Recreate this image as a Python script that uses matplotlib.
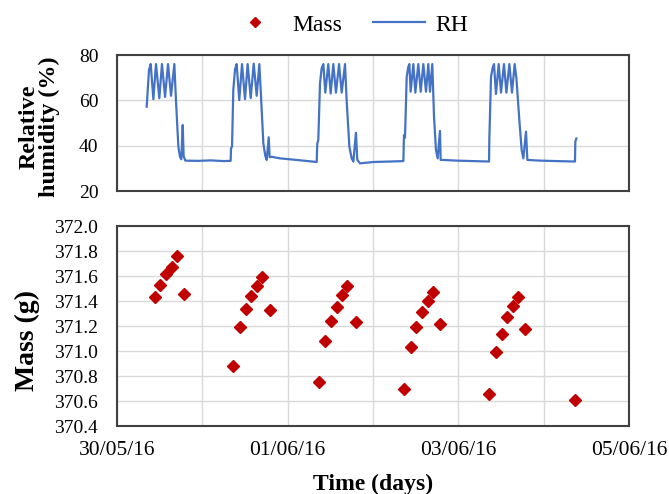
import matplotlib
matplotlib.use("Agg")
import matplotlib.pyplot as plt
from matplotlib.lines import Line2D

plt.rcParams['font.family'] = ['Liberation Serif', 'DejaVu Serif']

# ---- data (days since 30/05/16) ----
mass_days = [0.445, 0.504, 0.574, 0.641, 0.707, 0.789,
             1.363, 1.438, 1.508, 1.574, 1.637, 1.699, 1.789,
             2.367, 2.441, 2.504, 2.574, 2.637, 2.699, 2.797,
             3.363, 3.441, 3.508, 3.574, 3.641, 3.699, 3.785,
             4.363, 4.441, 4.512, 4.574, 4.637, 4.699, 4.781,
             5.371]
mass_values = [371.43, 371.53, 371.62, 371.67, 371.76, 371.46,
               370.88, 371.19, 371.34, 371.44, 371.52, 371.59, 371.33,
               370.75, 371.08, 371.24, 371.35, 371.45, 371.52, 371.23,
               370.70, 371.03, 371.19, 371.31, 371.40, 371.47, 371.22,
               370.66, 370.99, 371.14, 371.27, 371.36, 371.43, 371.18,
               370.61]

rh_days = [0.348, 0.375, 0.395, 0.426, 0.457, 0.496, 0.527, 0.563, 0.598, 0.633, 0.672,
           0.691, 0.719, 0.738, 0.754, 0.770, 0.781, 0.801, 0.95, 1.10, 1.25, 1.332,
           1.336, 1.348, 1.363, 1.383, 1.402, 1.433, 1.465, 1.500, 1.531, 1.567, 1.602,
           1.637, 1.668, 1.684, 1.715, 1.738, 1.754, 1.778, 1.789, 1.813, 1.91, 2.105, 2.34,
           2.347, 2.359, 2.379, 2.398, 2.418, 2.441, 2.476, 2.504, 2.535, 2.566, 2.602,
           2.633, 2.672, 2.691, 2.723, 2.750, 2.770, 2.800, 2.816, 2.848, 3.004, 3.199, 3.356,
           3.363, 3.375, 3.395, 3.414, 3.426, 3.441, 3.473, 3.496, 3.531, 3.559, 3.590,
           3.621, 3.648, 3.668, 3.695, 3.715, 3.738, 3.758, 3.785, 3.793, 3.824, 3.98, 4.17, 4.36,
           4.363, 4.383, 4.402, 4.418, 4.441, 4.473, 4.500, 4.535, 4.563, 4.598, 4.629, 4.660,
           4.680, 4.715, 4.742, 4.762, 4.793, 4.809, 4.957, 5.15, 5.367, 5.371, 5.383]
rh_values = [57.2, 73.4, 76.0, 60.5, 76.0, 60.9, 76.0, 61.5, 76.0, 62.0, 76.0,
             60.0, 39.6, 35.1, 34.0, 49.1, 35.4, 33.4, 33.3, 33.5, 33.2, 33.3,
             38.8, 39.6, 64.6, 73.7, 76.0, 60.1, 76.0, 60.5, 76.0, 61.0, 76.2,
             62.0, 76.0, 64.6, 41.0, 35.5, 33.7, 43.7, 34.9, 35.1, 34.4, 33.7, 32.8,
             41.0, 42.5, 67.5, 74.1, 76.0, 63.4, 76.0, 63.0, 76.0, 63.4, 76.0,
             63.4, 76.0, 60.1, 39.6, 34.4, 33.0, 45.7, 33.7, 32.2, 32.8, 33.0, 33.2,
             44.7, 43.5, 70.4, 74.8, 76.0, 63.8, 76.0, 63.4, 76.0, 63.8, 76.0,
             63.8, 76.0, 63.8, 76.0, 52.8, 38.1, 34.4, 46.5, 33.7, 33.7, 33.4, 33.2, 33.0,
             42.5, 70.4, 74.3, 76.0, 62.8, 76.0, 63.4, 76.0, 63.4, 76.0, 63.4, 76.0,
             70.0, 51.3, 38.1, 34.4, 46.2, 33.7, 33.4, 33.2, 33.0, 41.8, 43.2]

x_ticks = [0, 1, 2, 3, 4, 5, 6]
x_ticklabels = ['30/05/16', '', '01/06/16', '', '03/06/16', '', '05/06/16']
rh_ticks = [20, 40, 60, 80]
mass_ticks = [370.4, 370.6, 370.8, 371.0, 371.2, 371.4, 371.6, 371.8, 372.0]

# ---- figure ----
fig = plt.figure(figsize=(6.69, 4.94), dpi=100)
L, R = 117 / 669, 629 / 669
ax1 = fig.add_axes([L, 1 - 191 / 494, R - L, (191 - 55) / 494])
ax2 = fig.add_axes([L, 1 - 426 / 494, R - L, (426 - 226) / 494])

rh_color = '#4472C4'
mass_color = '#C00000'
grid_color = '#D9D9D9'

ax1.plot(rh_days, rh_values, color=rh_color, lw=1.6, zorder=3)
ax1.set_ylim(20, 80)
ax1.set_yticks(rh_ticks)
ax1.set_xlim(0, 6)
ax1.set_xticks(x_ticks)
ax1.set_xticklabels([])

ax2.plot(mass_days, mass_values, linestyle='none', marker='D', markersize=6,
         color=mass_color, zorder=3)
ax2.set_ylim(370.4, 372.0)
ax2.set_yticks(mass_ticks)
ax2.set_yticklabels([f'{v:.1f}' for v in mass_ticks])
ax2.set_xlim(0, 6)
ax2.set_xticks(x_ticks)
ax2.set_xticklabels(x_ticklabels)

for ax in (ax1, ax2):
    ax.grid(True, color=grid_color, lw=1.0, zorder=0)
    ax.set_axisbelow(True)
    ax.tick_params(axis='y', length=0, labelsize=14, pad=13.5)
    ax.tick_params(axis='x', length=0, labelsize=15.5, pad=11)
    for s in ax.spines.values():
        s.set_color('#404040')
        s.set_linewidth(1.5)

ax1.set_ylabel('Relative\nhumidity (%)', fontsize=17.4, fontweight='bold',
               linespacing=0.95)
ax1.yaxis.set_label_coords(-0.112, 0.47)
ax2.set_ylabel('Mass (g)', fontsize=20, fontweight='bold')
ax2.yaxis.set_label_coords(-0.15, 0.43)
ax2.set_xlabel('Time (days)', fontsize=17, fontweight='bold')
ax2.xaxis.set_label_coords(0.5, -0.238)

handles = [Line2D([], [], linestyle='none', marker='D', markersize=5.5, color=mass_color),
           Line2D([], [], color=rh_color, lw=1.6)]
fig.legend(handles, ['Mass', 'RH'], loc='center', bbox_to_anchor=(349 / 669, 1 - 25 / 494),
           ncol=2, frameon=False, fontsize=17, handlelength=2.2, columnspacing=1.27,
           handletextpad=0.48, borderpad=0.0)

fig.savefig('out.png', dpi=100)
